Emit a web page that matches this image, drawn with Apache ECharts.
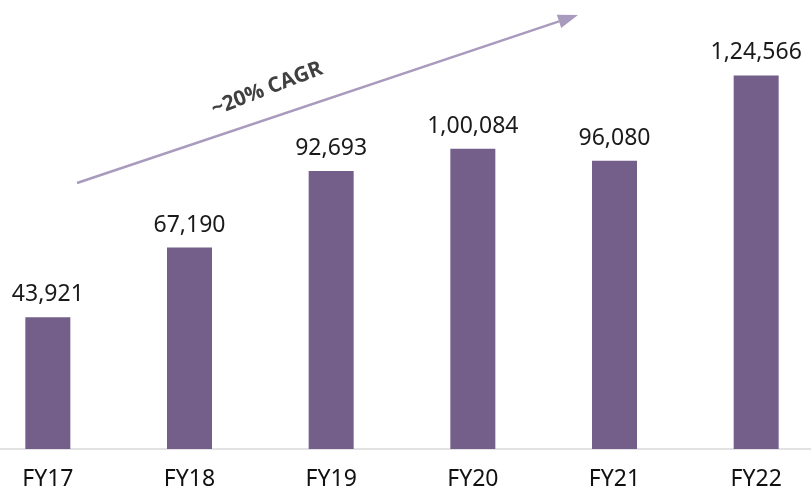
<!DOCTYPE html>
<html>
<head>
<meta charset="utf-8">
<script src="https://cdn.jsdelivr.net/npm/echarts@6/dist/echarts.min.js"></script>
<style>html,body{margin:0;padding:0;background:#fff;overflow:hidden;width:811px;height:492px;}#c{position:absolute;left:-23px;top:0;width:850px;height:492px;}</style>
</head>
<body>
<div id="c"></div>
<script>
const categories = ['FY17', 'FY18', 'FY19', 'FY20', 'FY21', 'FY22'];
const values = [43921, 67190, 92693, 100084, 96080, 124566];
const valueLabels = ['43,921', '67,190', '92,693', '1,00,084', '96,080', '1,24,566'];
const cagrLabel = '~20% CAGR';

const OX = 23; // offset of the wider chart canvas
const chart = echarts.init(document.getElementById('c'));
chart.setOption({
  animation: false,
  grid: { left: 0, right: 0, top: 0, bottom: 43 },
  xAxis: {
    type: 'category',
    data: categories,
    axisLine: { lineStyle: { color: '#d9d9d9', width: 1.5 } },
    axisTick: { show: false },
    axisLabel: { color: '#111', fontSize: 23, fontFamily: 'Noto Sans', margin: 19 }
  },
  yAxis: {
    type: 'value', min: 0, max: 149700,
    show: false, splitLine: { show: false }
  },
  series: [{
    type: 'bar',
    data: values,
    barWidth: 45,
    itemStyle: { color: '#735F8A' },
    label: {
      show: true, position: 'top', distance: 11,
      color: '#1a1a1a', fontSize: 23, fontFamily: 'Noto Sans',
      formatter: p => valueLabels[p.dataIndex]
    }
  }],
  graphic: [
    { type: 'line', shape: { x1: 77 + OX, y1: 183, x2: 559 + OX, y2: 21.4 },
      style: { stroke: '#A99BBD', lineWidth: 2.5 } },
    { type: 'polygon', shape: { points: [[578 + OX, 15], [561.2 + OX, 28.0], [556.8 + OX, 14.8]] },
      style: { fill: '#A99BBD' } },
    { type: 'text', x: 267 + OX, y: 89, rotation: 0.37,
      style: { text: cagrLabel, fill: '#404040', font: 'bold 21px "Open Sans"',
        textAlign: 'center', textVerticalAlign: 'middle' } }
  ]
});
</script>
</body>
</html>
